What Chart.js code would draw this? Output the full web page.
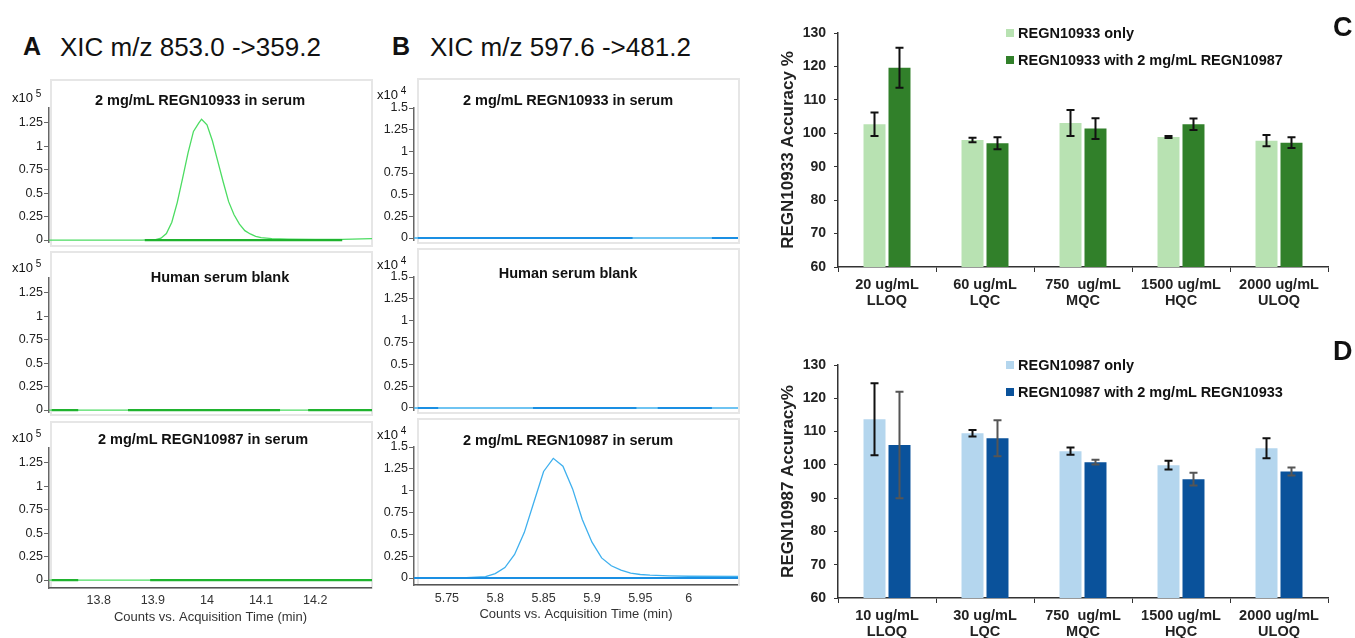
<!DOCTYPE html>
<html><head><meta charset="utf-8">
<script src="https://cdn.jsdelivr.net/npm/chart.js@4.4.1/dist/chart.umd.min.js"></script>
<style>
body{margin:0;width:1355px;height:638px;position:relative;overflow:hidden;background:#fff;font-family:"Liberation Sans",Arial,sans-serif;color:#111;}
.t{position:absolute;white-space:pre;line-height:1;}
.c{transform:translateX(-50%);}
.frame{position:absolute;border:2px solid #e6e6e6;box-sizing:border-box;}
canvas{position:absolute;}
.sq{position:absolute;width:8px;height:8px;}
</style></head><body>

<!-- frames -->
<div class="frame" style="left:50px;top:79px;width:323px;height:168px"></div>
<div class="frame" style="left:50px;top:251px;width:323px;height:165px"></div>
<div class="frame" style="left:50px;top:421px;width:323px;height:168px"></div>
<div class="frame" style="left:417px;top:78px;width:323px;height:166px"></div>
<div class="frame" style="left:417px;top:248px;width:323px;height:166px"></div>
<div class="frame" style="left:417px;top:418px;width:323px;height:168px"></div>

<canvas id="a1" width="372" height="152" style="left:0;top:98px"></canvas>
<canvas id="a2" width="372" height="152" style="left:0;top:268px"></canvas>
<canvas id="a3" width="372" height="195" style="left:0;top:438px"></canvas>
<canvas id="b1" width="368" height="150" style="left:370px;top:98px"></canvas>
<canvas id="b2" width="368" height="151" style="left:370px;top:267px"></canvas>
<canvas id="b3" width="368" height="193" style="left:370px;top:437px"></canvas>
<canvas id="cc" width="595" height="320" style="left:760px;top:0"></canvas>
<canvas id="dd" width="595" height="318" style="left:760px;top:320px"></canvas>

<!-- panel headings -->
<div class="t" style="left:23px;top:34px;font-size:25px;font-weight:bold">A</div>
<div class="t" style="left:60px;top:34px;font-size:26px">XIC m/z 853.0 -&gt;359.2</div>
<div class="t" style="left:392px;top:34px;font-size:25px;font-weight:bold">B</div>
<div class="t" style="left:430px;top:34px;font-size:26px">XIC m/z 597.6 -&gt;481.2</div>
<div class="t" style="left:1333px;top:14px;font-size:27px;font-weight:bold">C</div>
<div class="t" style="left:1333px;top:338px;font-size:27px;font-weight:bold">D</div>

<!-- subplot titles -->
<div class="t c" style="left:200px;top:93px;font-size:14.5px;font-weight:bold">2 mg/mL REGN10933 in serum</div>
<div class="t c" style="left:220px;top:270px;font-size:14.5px;font-weight:bold">Human serum blank</div>
<div class="t c" style="left:203px;top:432px;font-size:14.5px;font-weight:bold">2 mg/mL REGN10987 in serum</div>
<div class="t c" style="left:568px;top:93px;font-size:14.5px;font-weight:bold">2 mg/mL REGN10933 in serum</div>
<div class="t c" style="left:568px;top:266px;font-size:14.5px;font-weight:bold">Human serum blank</div>
<div class="t c" style="left:568px;top:433px;font-size:14.5px;font-weight:bold">2 mg/mL REGN10987 in serum</div>

<!-- multipliers -->
<div class="t" style="left:12px;top:89px;font-size:13px">x10<sup style="font-size:10px"> 5</sup></div>
<div class="t" style="left:12px;top:259px;font-size:13px">x10<sup style="font-size:10px"> 5</sup></div>
<div class="t" style="left:12px;top:429px;font-size:13px">x10<sup style="font-size:10px"> 5</sup></div>
<div class="t" style="left:377px;top:86px;font-size:13px">x10<sup style="font-size:10px"> 4</sup></div>
<div class="t" style="left:377px;top:256px;font-size:13px">x10<sup style="font-size:10px"> 4</sup></div>
<div class="t" style="left:377px;top:426px;font-size:13px">x10<sup style="font-size:10px"> 4</sup></div>

<!-- legends C / D -->
<div class="sq" style="left:1006px;top:29px;background:#b8e2b2"></div>
<div class="t" style="left:1018px;top:26px;font-size:14.5px;font-weight:bold">REGN10933 only</div>
<div class="sq" style="left:1006px;top:56px;background:#31802a"></div>
<div class="t" style="left:1018px;top:53px;font-size:14.5px;font-weight:bold">REGN10933 with 2 mg/mL REGN10987</div>
<div class="sq" style="left:1006px;top:361px;background:#b4d6ee"></div>
<div class="t" style="left:1018px;top:358px;font-size:14.5px;font-weight:bold">REGN10987 only</div>
<div class="sq" style="left:1006px;top:388px;background:#0a529b"></div>
<div class="t" style="left:1018px;top:385px;font-size:14.5px;font-weight:bold">REGN10987 with 2 mg/mL REGN10933</div>

<script>
// ================= DATA =================
// Panel A (counts x10^5), time in min
const timeA1   = [13.708,13.80,13.88,13.905,13.915,13.925,13.935,13.945,13.955,13.965,13.975,13.985,13.99,14.0,14.01,14.02,14.03,14.04,14.05,14.06,14.07,14.08,14.09,14.10,14.12,14.15,14.20,14.25,14.305];
const countsA1 = [0,0,0,0.005,0.02,0.07,0.19,0.40,0.66,0.93,1.16,1.25,1.29,1.23,1.06,0.84,0.62,0.41,0.27,0.17,0.10,0.065,0.04,0.025,0.015,0.01,0.008,0.006,0.014];
const timeA2   = [13.708,14.305];
const countsA2 = [0,0];
const timeA3   = [13.708,14.305];
const countsA3 = [0,0];
const baseA1 = [[13.885,14.250]];
const baseA2 = [[13.713,13.762],[13.854,14.135],[14.187,14.305]];
const baseA3 = [[13.713,13.762],[13.895,14.305]];
// Panel B (counts x10^4)
const timeB1   = [5.716,6.051];
const countsB1 = [0,0];
const timeB2   = [5.716,6.051];
const countsB2 = [0,0];
const timeB3   = [5.716,5.77,5.79,5.80,5.81,5.82,5.83,5.84,5.85,5.86,5.87,5.88,5.89,5.90,5.91,5.92,5.93,5.94,5.95,5.96,5.98,6.00,6.051];
const countsB3 = [0,0.005,0.015,0.05,0.12,0.27,0.52,0.87,1.22,1.37,1.28,1.02,0.67,0.41,0.23,0.14,0.09,0.055,0.04,0.032,0.025,0.02,0.018];
const baseB1 = [[5.720,5.942],[6.024,6.051]];
const baseB2 = [[5.720,5.741],[5.839,5.946],[5.968,6.024]];
const baseB3 = [[5.716,6.051]];
// tick labels
const yTicksA = [0,0.25,0.5,0.75,1,1.25];
const yTicksB = [0,0.25,0.5,0.75,1,1.25,1.5];
const xTicksA = [13.8,13.9,14,14.1,14.2];
const xTicksB = [5.75,5.8,5.85,5.9,5.95,6];
const xTitle = 'Counts vs. Acquisition Time (min)';

// Panel C
const catsC = [['20 ug/mL','LLOQ'],['60 ug/mL','LQC'],['750  ug/mL','MQC'],['1500 ug/mL','HQC'],['2000 ug/mL','ULOQ']];
const cOnly     = [102.7, 98.0, 103.1, 98.9, 97.8];
const cOnlyErr  = [3.5, 0.7, 3.9, 0.3, 1.7];
const cWith     = [119.6, 97.0, 101.4, 102.7, 97.2];
const cWithErr  = [6.0, 1.8, 3.1, 1.7, 1.6];
// Panel D
const catsD = [['10 ug/mL','LLOQ'],['30 ug/mL','LQC'],['750  ug/mL','MQC'],['1500 ug/mL','HQC'],['2000 ug/mL','ULOQ']];
const dOnly     = [113.7, 109.5, 104.1, 99.9, 105.0];
const dOnlyErr  = [10.8, 1.0, 1.1, 1.3, 3.0];
const dWith     = [106.0, 108.0, 100.8, 95.7, 98.0];
const dWithErr  = [16.0, 5.4, 0.7, 1.9, 1.2];
const barTicks  = [60,70,80,90,100,110,120,130];

// ================= CHARTS =================
Chart.defaults.font.family = '"Liberation Sans", Arial, sans-serif';
Chart.defaults.color = '#222';
Chart.defaults.animation = false;

const pts = (xs, ys) => xs.map((x,i)=>({x:x, y:ys[i]}));
function segs(pairs){
  const out=[];
  pairs.forEach((p,i)=>{
    if(i) out.push({x:(pairs[i-1][1]+p[0])/2, y:null});
    out.push({x:p[0],y:0},{x:p[1],y:0});
  });
  return out;
}

function chrom(id, c){
  new Chart(document.getElementById(id), {
    type:'line',
    data:{datasets:[
      {data:segs(c.base), borderColor:c.baseColor, borderWidth:2.2, pointRadius:0, spanGaps:false},
      {data:pts(c.tx,c.ty), borderColor:c.traceColor, borderWidth:1.3, pointRadius:0, tension:0}
    ]},
    options:{
      responsive:false, events:[],
      layout:{padding:{top:10,left:0,right:0,bottom:c.showX?0:8}},
      plugins:{legend:{display:false}, tooltip:{enabled:false}},
      scales:{
        x:{type:'linear', min:c.xmin, max:c.xmax, display:c.showX,
           afterBuildTicks:s=>{s.ticks=c.xticks.map(v=>({value:v}));},
           afterFit:s=>{s.height=c.showX?45:0; s.paddingLeft=0; s.paddingRight=0;},
           grid:{display:false,drawTicks:false},
           border:{display:true,color:'#555',width:1.5},
           ticks:{font:{size:12.5},color:'#333',padding:c.xpad,maxRotation:0,autoSkip:false,callback:v=>String(v)},
           title:{display:true,text:xTitle,font:{size:13},color:'#333',padding:{top:0,bottom:8}}
        },
        y:{type:'linear', min:c.ymin, max:c.ymax,
           afterBuildTicks:s=>{s.ticks=c.yticks.map(v=>({value:v}));},
           afterFit:s=>{s.width=c.yw; s.paddingTop=0; s.paddingBottom=0;},
           grid:{display:true,drawOnChartArea:false,drawTicks:true,tickLength:5,color:'#666'},
           border:{display:true,color:'#666',width:1.5},
           ticks:{font:{size:12.5},color:'#222',padding:1,autoSkip:false,callback:v=>String(v)}
        }
      }
    }
  });
}

const gA = {xmin:13.708, xmax:14.305, xticks:xTicksA, yticks:yTicksA, yw:49, traceColor:'#4cdc62', baseColor:'#1fb32e', xpad:5};
const gB = {xmin:5.716, xmax:6.051, xticks:xTicksB, yticks:yTicksB, yw:44, traceColor:'#3fb0ee', baseColor:'#1a8fe3', xpad:6};

chrom('a1', Object.assign({}, gA, {tx:timeA1, ty:countsA1, base:baseA1, ymin:-0.021, ymax:1.41, showX:false}));
chrom('a2', Object.assign({}, gA, {tx:timeA2, ty:countsA2, base:baseA2, ymin:-0.021, ymax:1.41, showX:false}));
chrom('a3', Object.assign({}, gA, {tx:timeA3, ty:countsA3, base:baseA3, ymin:-0.085, ymax:1.41, showX:true}));
chrom('b1', Object.assign({}, gB, {tx:timeB1, ty:countsB1, base:baseB1, ymin:-0.023, ymax:1.5, showX:false}));
chrom('b2', Object.assign({}, gB, {tx:timeB2, ty:countsB2, base:baseB2, ymin:-0.023, ymax:1.5, showX:false}));
chrom('b3', Object.assign({}, gB, {tx:timeB3, ty:countsB3, base:baseB3, ymin:-0.080, ymax:1.5, showX:true}));

const errorBars = {
  id:'errorBars',
  afterDatasetsDraw(chart){
    const ctx = chart.ctx, ys = chart.scales.y;
    chart.data.datasets.forEach((ds,i)=>{
      const meta = chart.getDatasetMeta(i);
      meta.data.forEach((bar,j)=>{
        const v = ds.data[j], e = ds.err[j];
        const yt = ys.getPixelForValue(v+e), yb = ys.getPixelForValue(v-e);
        ctx.save();
        ctx.strokeStyle = ds.errColor; ctx.lineWidth = 2;
        ctx.beginPath();
        ctx.moveTo(bar.x,yt); ctx.lineTo(bar.x,yb);
        ctx.moveTo(bar.x-4,yt); ctx.lineTo(bar.x+4,yt);
        ctx.moveTo(bar.x-4,yb); ctx.lineTo(bar.x+4,yb);
        ctx.stroke(); ctx.restore();
      });
    });
  }
};

function bars(id, c){
  new Chart(document.getElementById(id), {
    type:'bar',
    data:{labels:c.cats, datasets:[
      {label:c.l1, data:c.v1, err:c.e1, errColor:'#111', backgroundColor:c.col1, borderWidth:0, categoryPercentage:0.51, barPercentage:0.88},
      {label:c.l2, data:c.v2, err:c.e2, errColor:c.err2Color, backgroundColor:c.col2, borderWidth:0, categoryPercentage:0.51, barPercentage:0.88}
    ]},
    options:{
      responsive:false, events:[],
      layout:{padding:{top:c.padTop,right:27,left:0,bottom:0}},
      plugins:{legend:{display:false}, tooltip:{enabled:false}},
      scales:{
        x:{
          afterFit:s=>{s.height=c.xh; s.paddingLeft=0; s.paddingRight=0;},
          grid:{display:true,drawOnChartArea:false,drawTicks:true,tickLength:5,offset:true,color:'#333'},
          border:{display:true,color:'#333',width:1.5},
          ticks:{font:{size:14.5,weight:'bold',lineHeight:1.1},color:'#222',padding:5,maxRotation:0,autoSkip:false}
        },
        y:{min:60,max:130,
          afterBuildTicks:s=>{s.ticks=barTicks.map(v=>({value:v}));},
          afterFit:s=>{s.width=78; s.paddingTop=0; s.paddingBottom=0;},
          grid:{display:true,drawOnChartArea:false,drawTicks:true,tickLength:4,color:'#333'},
          border:{display:true,color:'#333',width:1.5},
          ticks:{font:{size:14,weight:'bold'},color:'#222',padding:8,autoSkip:false},
          title:{display:true,text:c.ytitle,font:{size:17,weight:'bold'},color:'#222',padding:{top:18,bottom:0}}
        }
      }
    },
    plugins:[errorBars]
  });
}

bars('cc', {cats:catsC, v1:cOnly, e1:cOnlyErr, v2:cWith, e2:cWithErr, l1:'REGN10933 only', l2:'REGN10933 with 2 mg/mL REGN10987',
  col1:'#b8e2b2', col2:'#31802a', err2Color:'#111', padTop:33, xh:53, ytitle:'REGN10933 Accuracy %'});
bars('dd', {cats:catsD, v1:dOnly, e1:dOnlyErr, v2:dWith, e2:dWithErr, l1:'REGN10987 only', l2:'REGN10987 with 2 mg/mL REGN10933',
  col1:'#b4d6ee', col2:'#0a529b', err2Color:'#555', padTop:45, xh:40, ytitle:'REGN10987 Accuracy%'});
</script>
</body></html>
